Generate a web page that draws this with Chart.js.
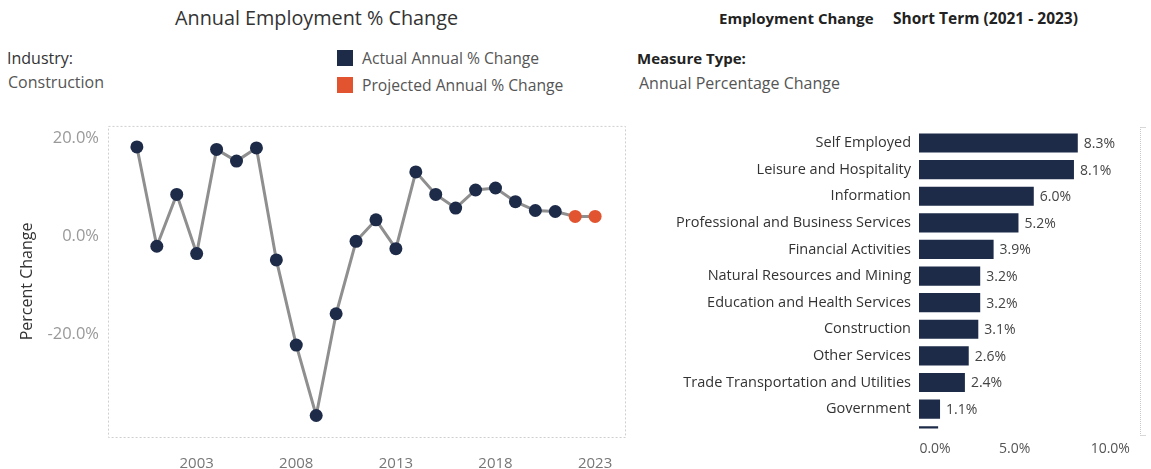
<!DOCTYPE html>
<html>
<head>
  <script src="https://cdn.jsdelivr.net/npm/chart.js"></script>
  <style>
    body { margin: 0; width: 1151px; height: 469px; background: #fff; font-family: "Open Sans", sans-serif; position: relative; overflow: hidden; }
    .txt { position: absolute; white-space: nowrap; line-height: 20px; }
    .sq { position: absolute; width: 16px; height: 16px; }
    #lineWrap { position: absolute; left: 0; top: 107px; width: 640px; height: 362px; }
    #barWrap { position: absolute; left: 630px; top: 113px; width: 521px; height: 356px; }
    #scroll { position: absolute; left: 1140px; top: 127px; width: 5px; height: 307px; border-left: 1px dotted #c8c8c8; border-top: 1px solid #d8d8d8; border-bottom: 1px solid #d8d8d8; }
  </style>
</head>
<body>
  <div class="txt" style="left:175px;top:8px;font-size:19.8px;color:#333;">Annual Employment % Change</div>
  <div class="txt" style="left:7px;top:48px;font-size:16px;color:#333;">Industry:</div>
  <div class="txt" style="left:8px;top:72px;font-size:16px;color:#555;">Construction</div>
  <div class="sq" style="left:337px;top:50px;background:#1d2b49;"></div>
  <div class="txt" style="left:362px;top:48px;font-size:15.7px;color:#555;">Actual Annual % Change</div>
  <div class="sq" style="left:337px;top:77px;background:#e2532f;"></div>
  <div class="txt" style="left:362px;top:75px;font-size:15.7px;color:#555;">Projected Annual % Change</div>

  <div class="txt" style="left:719px;top:8px;font-size:15px;color:#222;font-weight:bold;">Employment Change</div>
  <div class="txt" style="left:893px;top:8px;font-size:15.5px;color:#222;font-weight:bold;">Short Term (2021 - 2023)</div>
  <div class="txt" style="left:637px;top:48px;font-size:15px;color:#222;font-weight:bold;">Measure Type:</div>
  <div class="txt" style="left:639px;top:73px;font-size:16px;color:#555;">Annual Percentage Change</div>

  <div id="lineWrap"><canvas id="lineChart"></canvas></div>
  <div id="barWrap"><canvas id="barChart"></canvas></div>
  <div id="scroll"></div>

  <script>
    // line chart data (Construction, annual % change)
    var years = [2000, 2001, 2002, 2003, 2004, 2005, 2006, 2007, 2008, 2009, 2010, 2011,
                 2012, 2013, 2014, 2015, 2016, 2017, 2018, 2019, 2020, 2021, 2022, 2023];
    var pctChange = [18.3, -2.0, 8.6, -3.5, 17.8, 15.4, 18.1, -4.8, -22.2, -36.6, -15.8, -1.0,
                     3.4, -2.5, 13.2, 8.6, 5.8, 9.5, 9.9, 7.1, 5.3, 5.1, 4.1, 4.1];
    var projectedYears = [2022, 2023];
    var yearTicks = [2003, 2008, 2013, 2018, 2023];
    var pctTicks = [-20, 0, 20];

    // bar chart data (short term change by industry); last row is scrolled out of view
    var industries = ['Self Employed', 'Leisure and Hospitality', 'Information',
                      'Professional and Business Services', 'Financial Activities',
                      'Natural Resources and Mining', 'Education and Health Services',
                      'Construction', 'Other Services', 'Trade Transportation and Utilities',
                      'Government', ''];
    var shortTerm = [8.3, 8.1, 6.0, 5.2, 3.9, 3.2, 3.2, 3.1, 2.6, 2.4, 1.1, 1.0];
    var barTicks = [0, 5, 10];

    var navy = '#1d2b49';
    var orange = '#e2532f';
    var fontFam = '"Open Sans", sans-serif';

    // dotted frame round the plot area
    var frame = {
      id: 'frame',
      beforeDraw: function (chart) {
        var a = chart.chartArea, c = chart.ctx;
        c.save();
        c.strokeStyle = '#cfcfcf';
        c.lineWidth = 1;
        c.setLineDash([2, 2]);
        c.strokeRect(a.left + 0.5, a.top + 0.5, a.right - a.left, a.bottom - a.top);
        c.restore();
      }
    };

    new Chart(document.getElementById('lineChart'), {
      type: 'line',
      data: {
        datasets: [{
          data: years.map(function (y, i) { return { x: y, y: pctChange[i] }; }),
          borderColor: '#8f8f8f',
          borderWidth: 3,
          pointRadius: 6.5,
          pointBorderWidth: 0,
          pointBackgroundColor: years.map(function (y) { return projectedYears.indexOf(y) >= 0 ? orange : navy; }),
          fill: false,
          tension: 0
        }]
      },
      options: {
        responsive: true,
        maintainAspectRatio: false,
        animation: false,
        layout: { padding: { top: 0, right: 15, left: 0, bottom: 0 } },
        plugins: { legend: { display: false }, tooltip: { enabled: false } },
        scales: {
          x: {
            type: 'linear',
            min: 1998.55,
            max: 2024.5,
            afterBuildTicks: function (s) { s.ticks = yearTicks.map(function (v) { return { value: v }; }); },
            afterFit: function (s) { s.height = 32; },
            grid: { display: false },
            border: { display: false },
            ticks: {
              padding: 10,
              color: '#777',
              font: { family: fontFam, size: 15 },
              callback: function (v) { return String(v); }
            }
          },
          y: {
            min: -41,
            max: 22.6,
            afterBuildTicks: function (s) { s.ticks = pctTicks.map(function (v) { return { value: v }; }); },
            afterFit: function (s) { s.width = 108; },
            grid: { display: false, drawTicks: false },
            border: { display: false },
            title: {
              display: true,
              text: 'Percent Change',
              color: '#333',
              font: { family: fontFam, size: 16 },
              padding: { top: 18, bottom: 0 }
            },
            ticks: {
              padding: 9,
              color: '#999',
              font: { family: fontFam, size: 16.5 },
              callback: function (v) { return v.toFixed(1) + '%'; }
            }
          }
        }
      },
      plugins: [frame]
    });

    // value labels at the end of each bar
    var barLabels = {
      id: 'barLabels',
      afterDatasetsDraw: function (chart) {
        var c = chart.ctx;
        var meta = chart.getDatasetMeta(0);
        c.save();
        c.fillStyle = '#444';
        c.font = '14px ' + fontFam;
        c.textBaseline = 'middle';
        meta.data.forEach(function (bar, i) {
          if (!industries[i]) return;
          c.fillText(shortTerm[i].toFixed(1) + '%', bar.x + 6, bar.y + 1);
        });
        c.restore();
      }
    };

    new Chart(document.getElementById('barChart'), {
      type: 'bar',
      data: {
        labels: industries,
        datasets: [{
          data: shortTerm,
          backgroundColor: navy,
          categoryPercentage: 1,
          barPercentage: 0.72,
          clip: { left: 0, top: 0, right: 0, bottom: 6 }
        }]
      },
      options: {
        indexAxis: 'y',
        responsive: true,
        maintainAspectRatio: false,
        animation: false,
        layout: { padding: { top: 0, right: 12, left: 0, bottom: 0 } },
        plugins: { legend: { display: false }, tooltip: { enabled: false } },
        scales: {
          x: {
            min: 0,
            max: 11.5,
            afterBuildTicks: function (s) { s.ticks = barTicks.map(function (v) { return { value: v }; }); },
            afterFit: function (s) { s.height = 46.6; },
            grid: { display: false },
            border: { display: false },
            ticks: {
              padding: 10.6,
              color: '#555',
              font: { family: fontFam, size: 14 },
              callback: function (v) {
                var t = v.toFixed(1) + '%';
                return v === 0 ? '\u2007\u2007\u2007\u2007' + t : t;
              }
            }
          },
          y: {
            max: 'Government',
            afterFit: function (s) { s.width = 289; },
            grid: { display: false, drawTicks: false },
            border: { display: false },
            ticks: {
              padding: 8,
              color: '#333',
              font: { family: fontFam, size: 14.5 }
            }
          }
        }
      },
      plugins: [barLabels]
    });
  </script>
</body>
</html>
